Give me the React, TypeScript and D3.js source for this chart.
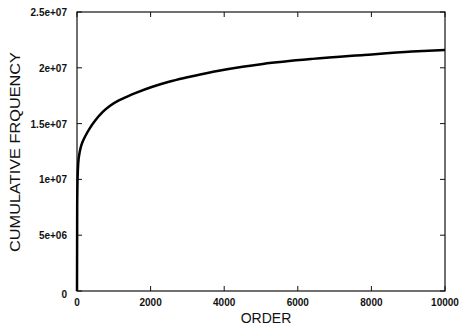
import { scaleLinear, line as d3_line, curveMonotoneX } from "d3"

const orders = [0, 5, 15, 35, 60, 100, 150, 220, 350, 500, 700, 900, 1150, 1350, 1600, 2050, 2500, 3000, 3700, 4500, 5050, 6400, 7800, 9100, 10000]
const cumFreq = [0, 7.5e6, 1.0e7, 1.15e7, 1.22e7, 1.285e7, 1.335e7, 1.385e7, 1.46e7, 1.53e7, 1.605e7, 1.66e7, 1.71e7, 1.74e7, 1.775e7, 1.83e7, 1.875e7, 1.915e7, 1.965e7, 2.01e7, 2.035e7, 2.08e7, 2.115e7, 2.145e7, 2.16e7]

const xTicks = [0, 2000, 4000, 6000, 8000, 10000]
const xTickLabels = ["0", "2000", "4000", "6000", "8000", "10000"]
const yTicks = [0, 5e6, 1e7, 1.5e7, 2e7, 2.5e7]
const yTickLabels = ["0", "5e+06", "1e+07", "1.5e+07", "2e+07", "2.5e+07"]

const xTitle = "ORDER"
const yTitle = "CUMULATIVE FRQUENCY"

const W = 462
const H = 326
const margin = { top: 12, right: 17, bottom: 35, left: 77 }

export default function App() {
  let xScale = scaleLinear().domain([0, 10000]).range([margin.left, W - margin.right])
  let yScale = scaleLinear().domain([0, 2.5e7]).range([H - margin.bottom, margin.top])

  let data = orders.map((o, i) => ({ order: o, value: cumFreq[i] }))
  let line = d3_line<(typeof data)[number]>()
    .x((d) => xScale(d.order))
    .y((d) => yScale(d.value))
    .curve(curveMonotoneX)
  let d = line(data) ?? ""

  let [x0, x1] = xScale.range()
  let [y0, y1] = yScale.range()
  let font = "'Liberation Sans', Arial, Helvetica, sans-serif"
  let tick = 5

  return (
    <svg
      width={W}
      height={H}
      style={{ position: "absolute", top: 0, left: 0, background: "#fff" }}
      fontFamily={font}
    >
      {/* frame */}
      <rect x={x0} y={y1} width={x1 - x0} height={y0 - y1} fill="none" stroke="#111" strokeWidth={1.2} />

      {/* x ticks, bottom and top, pointing inward */}
      {xTicks.map((t, i) => (
        <g key={"x" + i}>
          <line x1={xScale(t)} x2={xScale(t)} y1={y0} y2={y0 - tick} stroke="#111" strokeWidth={1} />
          <line x1={xScale(t)} x2={xScale(t)} y1={y1} y2={y1 + tick} stroke="#111" strokeWidth={1} />
          <text
            x={xScale(t)}
            y={y0 + 15}
            textAnchor="middle"
            fontSize={10}
            fontWeight="bold"
            fill="#111"
          >
            {xTickLabels[i]}
          </text>
        </g>
      ))}

      {/* y ticks, left and right */}
      {yTicks.map((t, i) => (
        <g key={"y" + i}>
          <line x1={x0} x2={x0 + tick} y1={yScale(t)} y2={yScale(t)} stroke="#111" strokeWidth={1} />
          <line x1={x1} x2={x1 - tick} y1={yScale(t)} y2={yScale(t)} stroke="#111" strokeWidth={1} />
          <text
            x={x0 - 10}
            y={yScale(t) + (i === 0 ? 7 : 4)}
            textAnchor="end"
            fontSize={10}
            fontWeight="bold"
            fill="#111"
          >
            {yTickLabels[i]}
          </text>
        </g>
      ))}

      {/* curve */}
      <path d={d} fill="none" stroke="#000" strokeWidth={2.5} strokeLinejoin="round" />

      {/* titles */}
      <text x={266} y={323} textAnchor="middle" fontSize={14} fill="#111">
        {xTitle}
      </text>
      <text
        transform="translate(20,152) rotate(-90)"
        textAnchor="middle"
        fontSize={15}
        fill="#111"
        textLength={200}
        lengthAdjust="spacingAndGlyphs"
      >
        {yTitle}
      </text>
    </svg>
  )
}
